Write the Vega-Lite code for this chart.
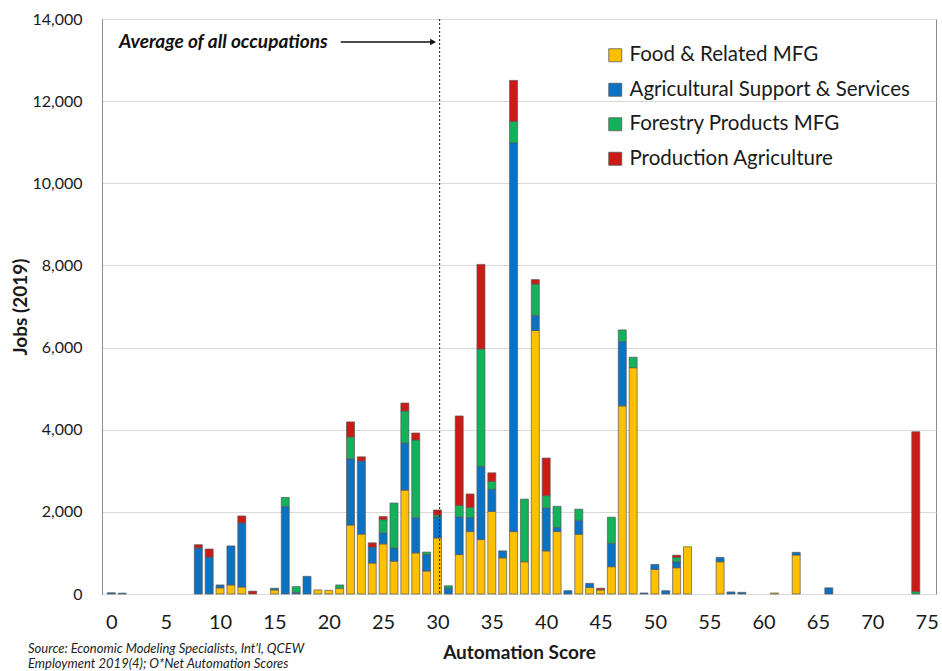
{
  "$schema": "https://vega.github.io/schema/vega-lite/v6.json",
  "width": 834,
  "height": 575,
  "autosize": {"type": "none"},
  "padding": {"left": 102, "top": 19, "right": 6, "bottom": 77},
  "background": "white",
  "config": {
    "font": "Lato",
    "view": {"stroke": "#8c8c8c", "strokeWidth": 1},
    "axis": {"labelColor": "#1a1a1a", "titleColor": "#1a1a1a"}
  },
  "title": {
    "text": ["Source: Economic Modeling Specialists, Int'l, QCEW", "Employment 2019(4); O*Net Automation Scores"],
    "orient": "bottom",
    "anchor": "start",
    "frame": "group",
    "dx": -74,
    "offset": -19,
    "fontSize": 13,
    "fontStyle": "italic",
    "fontWeight": "normal",
    "lineHeight": 15,
    "color": "#222222"
  },
  "layer": [
    {
      "data": {"values": [
        {"s": 0, "group": "Agricultural Support & Services", "k": 2, "v": 30},
        {"s": 1, "group": "Agricultural Support & Services", "k": 2, "v": 20},
        {"s": 8, "group": "Agricultural Support & Services", "k": 2, "v": 1120},
        {"s": 8, "group": "Production Agriculture", "k": 4, "v": 80},
        {"s": 9, "group": "Agricultural Support & Services", "k": 2, "v": 900},
        {"s": 9, "group": "Production Agriculture", "k": 4, "v": 195},
        {"s": 10, "group": "Food & Related MFG", "k": 1, "v": 150},
        {"s": 10, "group": "Agricultural Support & Services", "k": 2, "v": 70},
        {"s": 11, "group": "Food & Related MFG", "k": 1, "v": 220},
        {"s": 11, "group": "Agricultural Support & Services", "k": 2, "v": 950},
        {"s": 12, "group": "Food & Related MFG", "k": 1, "v": 170},
        {"s": 12, "group": "Agricultural Support & Services", "k": 2, "v": 1560},
        {"s": 12, "group": "Production Agriculture", "k": 4, "v": 170},
        {"s": 13, "group": "Production Agriculture", "k": 4, "v": 70},
        {"s": 15, "group": "Food & Related MFG", "k": 1, "v": 100},
        {"s": 15, "group": "Agricultural Support & Services", "k": 2, "v": 40},
        {"s": 16, "group": "Agricultural Support & Services", "k": 2, "v": 2130},
        {"s": 16, "group": "Forestry Products MFG", "k": 3, "v": 220},
        {"s": 17, "group": "Agricultural Support & Services", "k": 2, "v": 40},
        {"s": 17, "group": "Forestry Products MFG", "k": 3, "v": 140},
        {"s": 18, "group": "Agricultural Support & Services", "k": 2, "v": 430},
        {"s": 19, "group": "Food & Related MFG", "k": 1, "v": 100},
        {"s": 20, "group": "Food & Related MFG", "k": 1, "v": 90},
        {"s": 21, "group": "Food & Related MFG", "k": 1, "v": 140},
        {"s": 21, "group": "Forestry Products MFG", "k": 3, "v": 80},
        {"s": 22, "group": "Food & Related MFG", "k": 1, "v": 1680},
        {"s": 22, "group": "Agricultural Support & Services", "k": 2, "v": 1610},
        {"s": 22, "group": "Forestry Products MFG", "k": 3, "v": 535},
        {"s": 22, "group": "Production Agriculture", "k": 4, "v": 365},
        {"s": 23, "group": "Food & Related MFG", "k": 1, "v": 1460},
        {"s": 23, "group": "Agricultural Support & Services", "k": 2, "v": 1780},
        {"s": 23, "group": "Production Agriculture", "k": 4, "v": 100},
        {"s": 24, "group": "Food & Related MFG", "k": 1, "v": 755},
        {"s": 24, "group": "Agricultural Support & Services", "k": 2, "v": 390},
        {"s": 24, "group": "Production Agriculture", "k": 4, "v": 100},
        {"s": 25, "group": "Food & Related MFG", "k": 1, "v": 1220},
        {"s": 25, "group": "Agricultural Support & Services", "k": 2, "v": 270},
        {"s": 25, "group": "Forestry Products MFG", "k": 3, "v": 320},
        {"s": 25, "group": "Production Agriculture", "k": 4, "v": 75},
        {"s": 26, "group": "Food & Related MFG", "k": 1, "v": 800},
        {"s": 26, "group": "Agricultural Support & Services", "k": 2, "v": 320},
        {"s": 26, "group": "Forestry Products MFG", "k": 3, "v": 1095},
        {"s": 27, "group": "Food & Related MFG", "k": 1, "v": 2530},
        {"s": 27, "group": "Agricultural Support & Services", "k": 2, "v": 1145},
        {"s": 27, "group": "Forestry Products MFG", "k": 3, "v": 780},
        {"s": 27, "group": "Production Agriculture", "k": 4, "v": 195},
        {"s": 28, "group": "Food & Related MFG", "k": 1, "v": 1000},
        {"s": 28, "group": "Agricultural Support & Services", "k": 2, "v": 850},
        {"s": 28, "group": "Forestry Products MFG", "k": 3, "v": 1900},
        {"s": 28, "group": "Production Agriculture", "k": 4, "v": 170},
        {"s": 29, "group": "Food & Related MFG", "k": 1, "v": 560},
        {"s": 29, "group": "Agricultural Support & Services", "k": 2, "v": 400},
        {"s": 29, "group": "Forestry Products MFG", "k": 3, "v": 60},
        {"s": 30, "group": "Food & Related MFG", "k": 1, "v": 1365},
        {"s": 30, "group": "Agricultural Support & Services", "k": 2, "v": 510},
        {"s": 30, "group": "Forestry Products MFG", "k": 3, "v": 50},
        {"s": 30, "group": "Production Agriculture", "k": 4, "v": 120},
        {"s": 31, "group": "Agricultural Support & Services", "k": 2, "v": 140},
        {"s": 31, "group": "Forestry Products MFG", "k": 3, "v": 60},
        {"s": 32, "group": "Food & Related MFG", "k": 1, "v": 960},
        {"s": 32, "group": "Agricultural Support & Services", "k": 2, "v": 920},
        {"s": 32, "group": "Forestry Products MFG", "k": 3, "v": 275},
        {"s": 32, "group": "Production Agriculture", "k": 4, "v": 2180},
        {"s": 33, "group": "Food & Related MFG", "k": 1, "v": 1520},
        {"s": 33, "group": "Agricultural Support & Services", "k": 2, "v": 340},
        {"s": 33, "group": "Forestry Products MFG", "k": 3, "v": 250},
        {"s": 33, "group": "Production Agriculture", "k": 4, "v": 325},
        {"s": 34, "group": "Food & Related MFG", "k": 1, "v": 1325},
        {"s": 34, "group": "Agricultural Support & Services", "k": 2, "v": 1780},
        {"s": 34, "group": "Forestry Products MFG", "k": 3, "v": 2860},
        {"s": 34, "group": "Production Agriculture", "k": 4, "v": 2060},
        {"s": 35, "group": "Food & Related MFG", "k": 1, "v": 2010},
        {"s": 35, "group": "Agricultural Support & Services", "k": 2, "v": 540},
        {"s": 35, "group": "Forestry Products MFG", "k": 3, "v": 190},
        {"s": 35, "group": "Production Agriculture", "k": 4, "v": 210},
        {"s": 36, "group": "Food & Related MFG", "k": 1, "v": 880},
        {"s": 36, "group": "Agricultural Support & Services", "k": 2, "v": 170},
        {"s": 37, "group": "Food & Related MFG", "k": 1, "v": 1520},
        {"s": 37, "group": "Agricultural Support & Services", "k": 2, "v": 9470},
        {"s": 37, "group": "Forestry Products MFG", "k": 3, "v": 515},
        {"s": 37, "group": "Production Agriculture", "k": 4, "v": 1000},
        {"s": 38, "group": "Food & Related MFG", "k": 1, "v": 785},
        {"s": 38, "group": "Forestry Products MFG", "k": 3, "v": 1525},
        {"s": 39, "group": "Food & Related MFG", "k": 1, "v": 6415},
        {"s": 39, "group": "Agricultural Support & Services", "k": 2, "v": 370},
        {"s": 39, "group": "Forestry Products MFG", "k": 3, "v": 760},
        {"s": 39, "group": "Production Agriculture", "k": 4, "v": 110},
        {"s": 40, "group": "Food & Related MFG", "k": 1, "v": 1050},
        {"s": 40, "group": "Agricultural Support & Services", "k": 2, "v": 1045},
        {"s": 40, "group": "Forestry Products MFG", "k": 3, "v": 300},
        {"s": 40, "group": "Production Agriculture", "k": 4, "v": 915},
        {"s": 41, "group": "Food & Related MFG", "k": 1, "v": 1520},
        {"s": 41, "group": "Agricultural Support & Services", "k": 2, "v": 100},
        {"s": 41, "group": "Forestry Products MFG", "k": 3, "v": 515},
        {"s": 42, "group": "Agricultural Support & Services", "k": 2, "v": 80},
        {"s": 43, "group": "Food & Related MFG", "k": 1, "v": 1455},
        {"s": 43, "group": "Agricultural Support & Services", "k": 2, "v": 340},
        {"s": 43, "group": "Forestry Products MFG", "k": 3, "v": 270},
        {"s": 44, "group": "Food & Related MFG", "k": 1, "v": 160},
        {"s": 44, "group": "Agricultural Support & Services", "k": 2, "v": 100},
        {"s": 45, "group": "Food & Related MFG", "k": 1, "v": 100},
        {"s": 45, "group": "Production Agriculture", "k": 4, "v": 40},
        {"s": 46, "group": "Food & Related MFG", "k": 1, "v": 665},
        {"s": 46, "group": "Agricultural Support & Services", "k": 2, "v": 570},
        {"s": 46, "group": "Forestry Products MFG", "k": 3, "v": 635},
        {"s": 47, "group": "Food & Related MFG", "k": 1, "v": 4580},
        {"s": 47, "group": "Agricultural Support & Services", "k": 2, "v": 1565},
        {"s": 47, "group": "Forestry Products MFG", "k": 3, "v": 285},
        {"s": 48, "group": "Food & Related MFG", "k": 1, "v": 5510},
        {"s": 48, "group": "Forestry Products MFG", "k": 3, "v": 255},
        {"s": 49, "group": "Agricultural Support & Services", "k": 2, "v": 25},
        {"s": 50, "group": "Food & Related MFG", "k": 1, "v": 600},
        {"s": 50, "group": "Agricultural Support & Services", "k": 2, "v": 120},
        {"s": 51, "group": "Agricultural Support & Services", "k": 2, "v": 80},
        {"s": 52, "group": "Food & Related MFG", "k": 1, "v": 640},
        {"s": 52, "group": "Agricultural Support & Services", "k": 2, "v": 145},
        {"s": 52, "group": "Forestry Products MFG", "k": 3, "v": 105},
        {"s": 52, "group": "Production Agriculture", "k": 4, "v": 55},
        {"s": 53, "group": "Food & Related MFG", "k": 1, "v": 1150},
        {"s": 56, "group": "Food & Related MFG", "k": 1, "v": 785},
        {"s": 56, "group": "Agricultural Support & Services", "k": 2, "v": 105},
        {"s": 57, "group": "Agricultural Support & Services", "k": 2, "v": 50},
        {"s": 58, "group": "Agricultural Support & Services", "k": 2, "v": 40},
        {"s": 61, "group": "Food & Related MFG", "k": 1, "v": 25},
        {"s": 63, "group": "Food & Related MFG", "k": 1, "v": 950},
        {"s": 63, "group": "Agricultural Support & Services", "k": 2, "v": 65},
        {"s": 66, "group": "Agricultural Support & Services", "k": 2, "v": 150},
        {"s": 74, "group": "Forestry Products MFG", "k": 3, "v": 60},
        {"s": 74, "group": "Production Agriculture", "k": 4, "v": 3890}
      ]},
      "mark": {"type": "bar", "width": 8, "stroke": "#595959", "strokeWidth": 0.7},
      "encoding": {
        "x": {
          "field": "s", "type": "quantitative",
          "scale": {"domain": [-0.4, 75.4], "nice": false, "zero": false},
          "axis": {
            "title": "Automation Score",
            "values": [0, 5, 10, 15, 20, 25, 30, 35, 40, 45, 50, 55, 60, 65, 70, 75],
            "format": "d",
            "grid": false, "ticks": false, "domain": false,
            "labelFontSize": 20, "labelPadding": 18, "labelFlush": false,
            "titleFontSize": 19, "titleFontWeight": "bold", "titlePadding": 11
          }
        },
        "y": {
          "field": "v", "type": "quantitative", "stack": "zero",
          "scale": {"domain": [0, 14000], "nice": false},
          "axis": {
            "title": "Jobs (2019)",
            "values": [0, 2000, 4000, 6000, 8000, 10000, 12000, 14000],
            "format": ",d",
            "grid": true, "gridColor": "#d9d9d9", "gridWidth": 1,
            "ticks": false, "domain": true, "domainColor": "#8c8c8c",
            "labelFontSize": 16, "labelPadding": 20,
            "titleFontSize": 19, "titleFontWeight": "bold", "titlePadding": 1
          }
        },
        "color": {
          "field": "group", "type": "nominal",
          "scale": {
            "domain": ["Food & Related MFG", "Agricultural Support & Services", "Forestry Products MFG", "Production Agriculture"],
            "range": ["#FFC000", "#0A72C2", "#12B25A", "#CC1A14"]
          },
          "legend": {
            "title": null, "orient": "none", "legendX": 503, "legendY": 26,
            "symbolType": "square", "symbolSize": 169, "symbolStrokeColor": "#595959", "symbolStrokeWidth": 0.8,
            "labelFontSize": 20.5, "labelOffset": 4, "rowPadding": 13.5, "padding": 0, "labelLimit": 400,
            "labelColor": "#1a1a1a"
          }
        },
        "order": {"field": "k", "type": "quantitative", "sort": "ascending"}
      }
    },
    {
      "data": {"values": [{"s": 30.2}]},
      "mark": {"type": "rule", "color": "#111111", "strokeWidth": 1, "strokeDash": [2, 2]},
      "encoding": {
        "x": {
          "field": "s", "type": "quantitative",
          "axis": {
            "title": "Automation Score",
            "values": [0, 5, 10, 15, 20, 25, 30, 35, 40, 45, 50, 55, 60, 65, 70, 75],
            "format": "d",
            "grid": false, "ticks": false, "domain": false,
            "labelFontSize": 20, "labelPadding": 18, "labelFlush": false,
            "titleFontSize": 19, "titleFontWeight": "bold", "titlePadding": 11
          }
        }
      }
    },
    {
      "data": {"values": [{"s": 0.7, "v": 13440, "note": "Average of all occupations"}]},
      "mark": {"type": "text", "align": "left", "baseline": "middle", "fontSize": 19, "fontStyle": "italic", "fontWeight": "bold", "color": "#111111"},
      "encoding": {
        "x": {
          "field": "s", "type": "quantitative",
          "axis": {
            "title": "Automation Score",
            "values": [0, 5, 10, 15, 20, 25, 30, 35, 40, 45, 50, 55, 60, 65, 70, 75],
            "format": "d",
            "grid": false, "ticks": false, "domain": false,
            "labelFontSize": 20, "labelPadding": 18, "labelFlush": false,
            "titleFontSize": 19, "titleFontWeight": "bold", "titlePadding": 11
          }
        },
        "y": {
          "field": "v", "type": "quantitative",
          "axis": {
            "title": "Jobs (2019)",
            "values": [0, 2000, 4000, 6000, 8000, 10000, 12000, 14000],
            "format": ",d",
            "grid": true, "gridColor": "#d9d9d9", "gridWidth": 1,
            "ticks": false, "domain": true, "domainColor": "#8c8c8c",
            "labelFontSize": 16, "labelPadding": 20,
            "titleFontSize": 19, "titleFontWeight": "bold", "titlePadding": 1
          }
        },
        "text": {"field": "note"}
      }
    },
    {
      "data": {"values": [{"s": 21.1, "s2": 29.4, "v": 13440}]},
      "mark": {"type": "rule", "color": "#111111", "strokeWidth": 1.3},
      "encoding": {
        "x": {
          "field": "s", "type": "quantitative",
          "axis": {
            "title": "Automation Score",
            "values": [0, 5, 10, 15, 20, 25, 30, 35, 40, 45, 50, 55, 60, 65, 70, 75],
            "format": "d",
            "grid": false, "ticks": false, "domain": false,
            "labelFontSize": 20, "labelPadding": 18, "labelFlush": false,
            "titleFontSize": 19, "titleFontWeight": "bold", "titlePadding": 11
          }
        },
        "x2": {"field": "s2"},
        "y": {
          "field": "v", "type": "quantitative",
          "axis": {
            "title": "Jobs (2019)",
            "values": [0, 2000, 4000, 6000, 8000, 10000, 12000, 14000],
            "format": ",d",
            "grid": true, "gridColor": "#d9d9d9", "gridWidth": 1,
            "ticks": false, "domain": true, "domainColor": "#8c8c8c",
            "labelFontSize": 16, "labelPadding": 20,
            "titleFontSize": 19, "titleFontWeight": "bold", "titlePadding": 1
          }
        }
      }
    },
    {
      "data": {"values": [{"s": 29.6, "v": 13440}]},
      "mark": {"type": "point", "shape": "triangle-right", "filled": true, "size": 45, "color": "#111111", "opacity": 1},
      "encoding": {
        "x": {
          "field": "s", "type": "quantitative",
          "axis": {
            "title": "Automation Score",
            "values": [0, 5, 10, 15, 20, 25, 30, 35, 40, 45, 50, 55, 60, 65, 70, 75],
            "format": "d",
            "grid": false, "ticks": false, "domain": false,
            "labelFontSize": 20, "labelPadding": 18, "labelFlush": false,
            "titleFontSize": 19, "titleFontWeight": "bold", "titlePadding": 11
          }
        },
        "y": {
          "field": "v", "type": "quantitative",
          "axis": {
            "title": "Jobs (2019)",
            "values": [0, 2000, 4000, 6000, 8000, 10000, 12000, 14000],
            "format": ",d",
            "grid": true, "gridColor": "#d9d9d9", "gridWidth": 1,
            "ticks": false, "domain": true, "domainColor": "#8c8c8c",
            "labelFontSize": 16, "labelPadding": 20,
            "titleFontSize": 19, "titleFontWeight": "bold", "titlePadding": 1
          }
        }
      }
    }
  ]
}
